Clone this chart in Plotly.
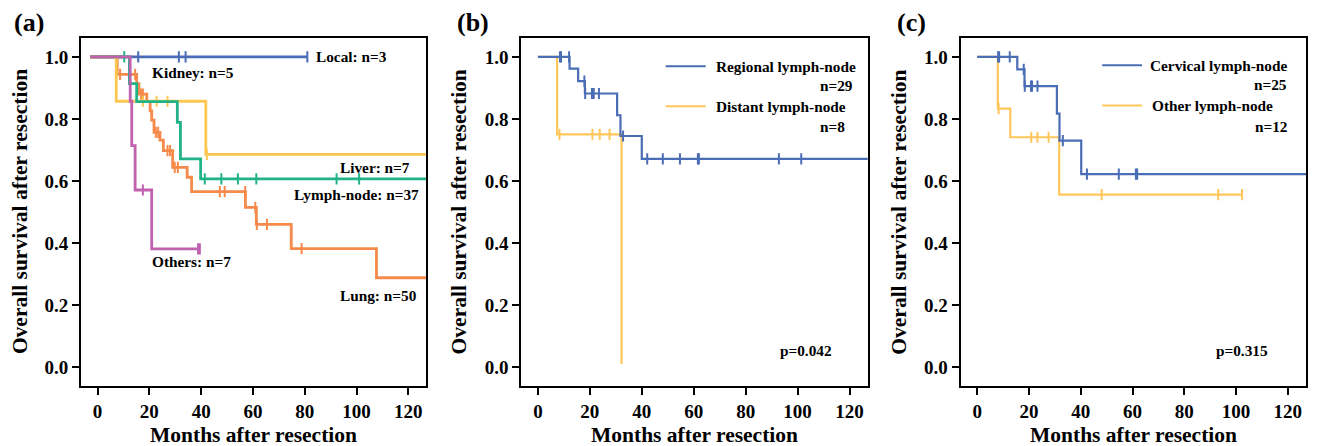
import numpy as np
import plotly.graph_objects as go

# ---------------- Data ----------------
# Panel (a): survival by recurrence site
a_local_t = [-2.8, 81.0]
a_local_s = [1.0, 1.0]
a_local_c = [15.7, 31.4, 34.0, 81.0]

a_kidney_t = [-2.8, 10.0]
a_kidney_s = [1.0, 1.0]
a_kidney_c = []

a_lymph_t = [-2.8, 12.3, 15.1, 30.8, 32.0, 39.8, 130.0]
a_lymph_s = [1.0, 0.914, 0.856, 0.789, 0.671, 0.607, 0.607]
a_lymph_c = [10.3, 41.4, 47.8, 54.2, 61.3, 92.3, 101.0]

a_liver_t = [-2.8, 7.2, 41.8, 130.0]
a_liver_s = [1.0, 0.857, 0.686, 0.686]
a_liver_c = [17.5, 22.8, 27.0, 42.2]

a_others_t = [-2.8, 12.6, 13.2, 14.5, 20.9, 39.5]
a_others_s = [1.0, 0.857, 0.714, 0.571, 0.381, 0.381]
a_others_c = [17.5, 38.8, 39.5]

a_lung_t = [-2.8, 7.6, 15.1, 16.0, 19.0, 20.3, 20.9, 21.8, 24.1, 25.4, 29.0,
            34.6, 36.3, 57.1, 61.3, 74.8, 107.7, 130.0]
a_lung_s = [1.0, 0.944, 0.914, 0.880, 0.856, 0.826, 0.796, 0.757, 0.732, 0.698,
            0.644, 0.612, 0.566, 0.515, 0.460, 0.382, 0.288, 0.288]
a_lung_c = [8.7, 14.5, 16.8, 17.5, 22.5, 23.4, 27.0, 28.0, 29.8, 31.0,
            47.2, 49.1, 57.0, 60.9, 61.5, 65.4, 78.8]

# Panel (b): regional vs distant lymph-node
b_reg_t = [0.0, 12.2, 15.5, 18.1, 30.5, 31.8, 40.0, 130.0]
b_reg_s = [1.0, 0.962, 0.922, 0.882, 0.812, 0.745, 0.671, 0.671]
b_reg_c = [8.5, 8.9, 12.0, 17.9, 18.2, 20.8, 21.2, 21.5, 23.5, 32.8,
           42.1, 48.1, 54.7, 61.6, 62.0, 92.8, 101.4]

b_dist_t = [0.0, 7.4, 32.2]
b_dist_s = [1.0, 0.75, 0.01]
b_dist_c = [8.3, 21.0, 23.8, 27.6]

# Panel (c): cervical vs other lymph-node
c_cerv_t = [0.0, 15.5, 18.3, 30.8, 31.8, 40.2, 130.0]
c_cerv_s = [1.0, 0.960, 0.906, 0.817, 0.730, 0.622, 0.622]
c_cerv_c = [8.1, 8.5, 12.6, 18.0, 18.4, 20.8, 21.2, 23.3, 33.1, 42.4, 54.7, 61.3, 61.8]

c_oth_t = [0.0, 8.0, 12.8, 31.7, 102.3]
c_oth_s = [1.0, 0.833, 0.741, 0.556, 0.556]
c_oth_c = [8.3, 20.9, 23.3, 27.6, 48.1, 93.1, 102.3]

x_ticks = [0, 20, 40, 60, 80, 100, 120]
y_ticks = [0.0, 0.2, 0.4, 0.6, 0.8, 1.0]

# ---------------- Styling ----------------
FONT = "Liberation Serif"
C_BLUE = "#4A6BB7"
C_GREEN = "#22B287"
C_YELLOW = "#FDC752"
C_ORANGE = "#F58A4B"
C_PURPLE = "#C062AE"
C_RED = "#E0504A"
C_BLUE2 = "#4A6DB5"
C_YELLOW2 = "#FFC65A"


def surv_at(t, s, ct):
    t = np.asarray(t)
    s = np.asarray(s)
    idx = np.searchsorted(t, np.asarray(ct, dtype=float), side="right") - 1
    idx = np.clip(idx, 0, len(s) - 1)
    return s[idx]


fig = go.Figure()


def add_km(t, s, c, color, xa, ya, width):
    fig.add_trace(go.Scatter(x=t, y=s, mode="lines", line=dict(color=color, width=width, shape="hv"),
                             xaxis=xa, yaxis=ya, showlegend=False, hoverinfo="skip"))
    if len(c):
        fig.add_trace(go.Scatter(x=c, y=surv_at(t, s, c), mode="markers",
                                 marker=dict(symbol="line-ns-open", size=8, color=color,
                                             line=dict(color=color, width=2)),
                                 xaxis=xa, yaxis=ya, showlegend=False, hoverinfo="skip"))


# Panel (a)
add_km(a_kidney_t, a_kidney_s, a_kidney_c, C_RED, "x", "y", 2.8)
add_km(a_local_t, a_local_s, a_local_c, C_BLUE, "x", "y", 2.8)
add_km(a_lung_t, a_lung_s, a_lung_c, C_ORANGE, "x", "y", 2.8)
add_km(a_liver_t, a_liver_s, a_liver_c, C_YELLOW, "x", "y", 2.8)
add_km(a_lymph_t, a_lymph_s, a_lymph_c, C_GREEN, "x", "y", 2.8)
add_km(a_others_t, a_others_s, a_others_c, C_PURPLE, "x", "y", 2.8)

# Panel (b)
add_km(b_dist_t, b_dist_s, b_dist_c, C_YELLOW2, "x2", "y2", 2.2)
add_km(b_reg_t, b_reg_s, b_reg_c, C_BLUE2, "x2", "y2", 2.2)

# Panel (c)
add_km(c_oth_t, c_oth_s, c_oth_c, C_YELLOW2, "x3", "y3", 2.2)
add_km(c_cerv_t, c_cerv_s, c_cerv_c, C_BLUE2, "x3", "y3", 2.2)

W, H = 1317, 446
L, R, T, B = 81, 9, 38, 60
pw = W - L - R
ph = H - T - B


def px2dom(a, b):
    return [(a - L) / pw, (b - L) / pw]


domains = [px2dom(81, 427), px2dom(522, 869), px2dom(962, 1308)]

tick_font = dict(family=FONT, size=19, color="black", weight="bold")
axis_common = dict(range=[-6.4, 127.0], tickvals=x_ticks, ticks="outside", ticklen=7, tickwidth=2,
                   tickcolor="black", showline=True, linewidth=2, linecolor="black", mirror=True,
                   showgrid=False, zeroline=False, tickfont=tick_font)
yaxis_common = dict(range=[-0.061, 1.061], tickvals=y_ticks, tickformat=".1f", ticks="outside", ticklen=7,
                    tickwidth=2, tickcolor="black", showline=True, linewidth=2, linecolor="black",
                    mirror=True, showgrid=False, zeroline=False, tickfont=tick_font)

layout = dict(width=W, height=H, margin=dict(l=L, r=R, t=T, b=B), plot_bgcolor="white",
              paper_bgcolor="white", showlegend=False)
for i, dom in enumerate(domains):
    sx = "" if i == 0 else str(i + 1)
    layout["xaxis" + sx] = dict(axis_common, domain=dom, anchor="y" + sx)
    layout["yaxis" + sx] = dict(yaxis_common, domain=[0, 1], anchor="x" + sx)
fig.update_layout(**layout)

ann = []
lab_font = dict(family=FONT, size=15.3, color="black", weight="bold")
title_font = dict(family=FONT, size=21.5, color="black", weight="bold")

# axis titles and panel letters
ytitle_x = [20, 460, 900]
letter_x = [12, 456, 896]
for i, dom in enumerate(domains):
    cx = (dom[0] + dom[1]) / 2
    ann.append(dict(text="Months after resection", x=cx, y=(H - B - 435) / ph, xref="paper", yref="paper",
                    xanchor="center", yanchor="middle", showarrow=False, font=title_font))
    ann.append(dict(text="Overall survival after resection", x=(ytitle_x[i] - L) / pw, y=0.5,
                    xref="paper", yref="paper", xanchor="center", yanchor="middle", textangle=-90,
                    showarrow=False, font=title_font))
    ann.append(dict(text="(" + "abc"[i] + ")", x=(letter_x[i] - L) / pw, y=(H - B - 22) / ph,
                    xref="paper", yref="paper", xanchor="left", yanchor="middle", showarrow=False,
                    font=dict(family=FONT, size=26, color="black", weight="bold")))

# panel (a) labels
a_labels = [("Local: n=3", 83.5, 1.0, "left"), ("Kidney: n=5", 20.3, 0.95, "left"),
            ("Liver: n=7", 121.3, 0.643, "right"), ("Lymph-node: n=37", 124.8, 0.557, "right"),
            ("Lung: n=50", 124.1, 0.23, "right"), ("Others: n=7", 20.3, 0.339, "left")]
for txt, xx, yy, anc in a_labels:
    ann.append(dict(text=txt, x=xx, y=yy, xref="x", yref="y", xanchor=anc, yanchor="middle",
                    showarrow=False, font=lab_font))

# panel (b) legend
b_leg = [("Regional lymph-node", 67.7, 0.970, "left"), ("n=29", 122.0, 0.909, "right"),
         ("Distant lymph-node", 67.7, 0.841, "left"), ("n=8", 118.9, 0.776, "right"),
         ("p=0.042", 103.2, 0.054, "center")]
for txt, xx, yy, anc in b_leg:
    ann.append(dict(text=txt, x=xx, y=yy, xref="x2", yref="y2", xanchor=anc, yanchor="middle",
                    showarrow=False, font=lab_font))
c_leg = [("Cervical lymph-node", 65.8, 0.973, "left"), ("n=25", 120.3, 0.912, "right"),
         ("Other lymph-node", 66.7, 0.843, "left"), ("n=12", 120.9, 0.776, "right"),
         ("p=0.315", 102.2, 0.054, "center")]
for txt, xx, yy, anc in c_leg:
    ann.append(dict(text=txt, x=xx, y=yy, xref="x3", yref="y3", xanchor=anc, yanchor="middle",
                    showarrow=False, font=lab_font))
fig.update_layout(annotations=ann)

shapes = [
    dict(type="line", x0=49.2, x1=64.6, y0=0.970, y1=0.970, xref="x2", yref="y2",
         line=dict(color=C_BLUE2, width=2)),
    dict(type="line", x0=49.2, x1=64.6, y0=0.841, y1=0.841, xref="x2", yref="y2",
         line=dict(color=C_YELLOW2, width=2)),
    dict(type="line", x0=48.3, x1=63.7, y0=0.973, y1=0.973, xref="x3", yref="y3",
         line=dict(color=C_BLUE2, width=2)),
    dict(type="line", x0=48.3, x1=63.7, y0=0.843, y1=0.843, xref="x3", yref="y3",
         line=dict(color=C_YELLOW2, width=2)),
]
fig.update_layout(shapes=shapes)

fig.write_html("out.html", config={"displayModeBar": False},
               post_script="document.body.style.margin='0px';document.body.style.overflow='hidden';")
